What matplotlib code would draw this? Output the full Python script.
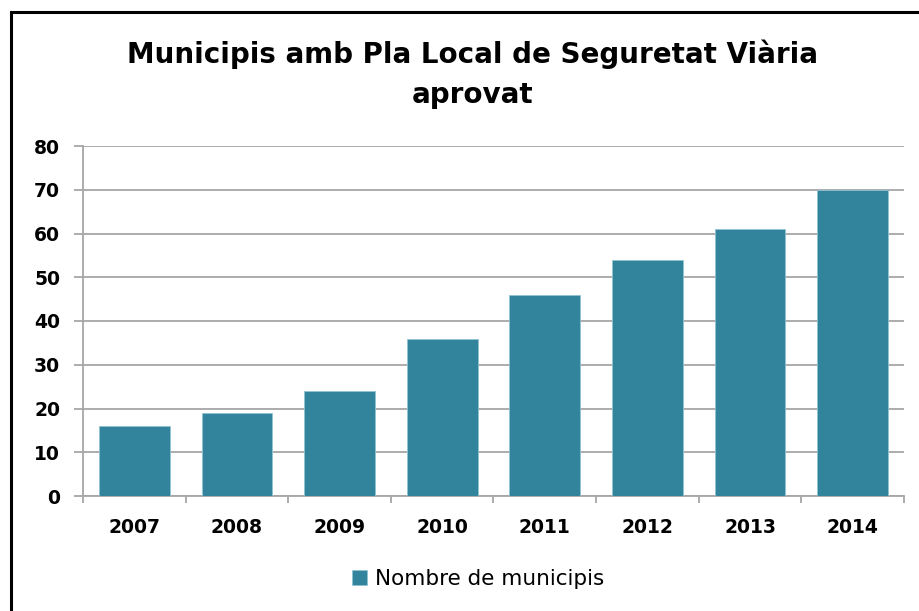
import matplotlib
matplotlib.use("Agg")
import matplotlib.pyplot as plt
from matplotlib.patches import Rectangle, Patch

years = ["2007", "2008", "2009", "2010", "2011", "2012", "2013", "2014"]
values = [16, 19, 24, 36, 46, 54, 61, 70]
series_name = "Nombre de municipis"
title_lines = ["Municipis amb Pla Local de Seguretat Viària", "aprovat"]

W, H = 920, 611
fig = plt.figure(figsize=(W / 100, H / 100), dpi=100)
fig.patch.set_facecolor("white")

# outer frame (left/top visible)
fig.patches.append(Rectangle((11 / W, -0.2), 1.5, (H - 12) / H + 0.2,
                             transform=fig.transFigure, fill=False,
                             edgecolor="black", linewidth=2.2, zorder=10))

ax = fig.add_axes([83 / W, (H - 496) / H, 821 / W, 350 / H])
bar_color = "#31849B"
grid_color = "#A6A6A6"
x = list(range(len(years)))
ax.bar(x, values, width=0.69, color=bar_color, edgecolor="#8FC3D1",
       linewidth=0.6, zorder=3)

ax.set_xlim(-0.5, len(years) - 0.5)
ax.set_ylim(0, 80)
ax.set_yticks(range(0, 81, 10))
ax.yaxis.grid(True, color=grid_color, linewidth=1.3, zorder=0)
ax.set_axisbelow(True)
for s in ["top", "right"]:
    ax.spines[s].set_visible(False)
for s in ["left", "bottom"]:
    ax.spines[s].set_color(grid_color)
    ax.spines[s].set_linewidth(1.3)

ax.set_xticks(x)
ax.set_xticklabels(years)
ax.set_xticks([i - 0.5 for i in range(len(years) + 1)], minor=True)
ax.tick_params(axis="x", which="major", length=0, pad=16)
ax.tick_params(axis="x", which="minor", length=5, color=grid_color, width=1.3)
ax.tick_params(axis="y", length=6.5, color=grid_color, width=1.3, pad=10)

for lab in ax.get_xticklabels() + ax.get_yticklabels():
    lab.set_fontfamily("DejaVu Sans")
    lab.set_fontweight("bold")
    lab.set_fontsize(13.5)
    lab.set_color("black")

fig.text(473 / W, 1 - 54 / H, title_lines[0], ha="center", va="center",
         fontsize=20, fontweight="bold", family="DejaVu Sans")
fig.text(473 / W, 1 - 95 / H, title_lines[1], ha="center", va="center",
         fontsize=20, fontweight="bold", family="DejaVu Sans")

handle = Patch(facecolor=bar_color, edgecolor="#8FC3D1", linewidth=0.5)
fig.legend([handle], [series_name], loc="center",
           bbox_to_anchor=(478 / W, 1 - 579 / H), frameon=False,
           handlelength=0.72, handleheight=0.72, handletextpad=0.35,
           prop={"family": "DejaVu Sans", "size": 15.5})

fig.savefig("out.png", dpi=100, facecolor="white")
